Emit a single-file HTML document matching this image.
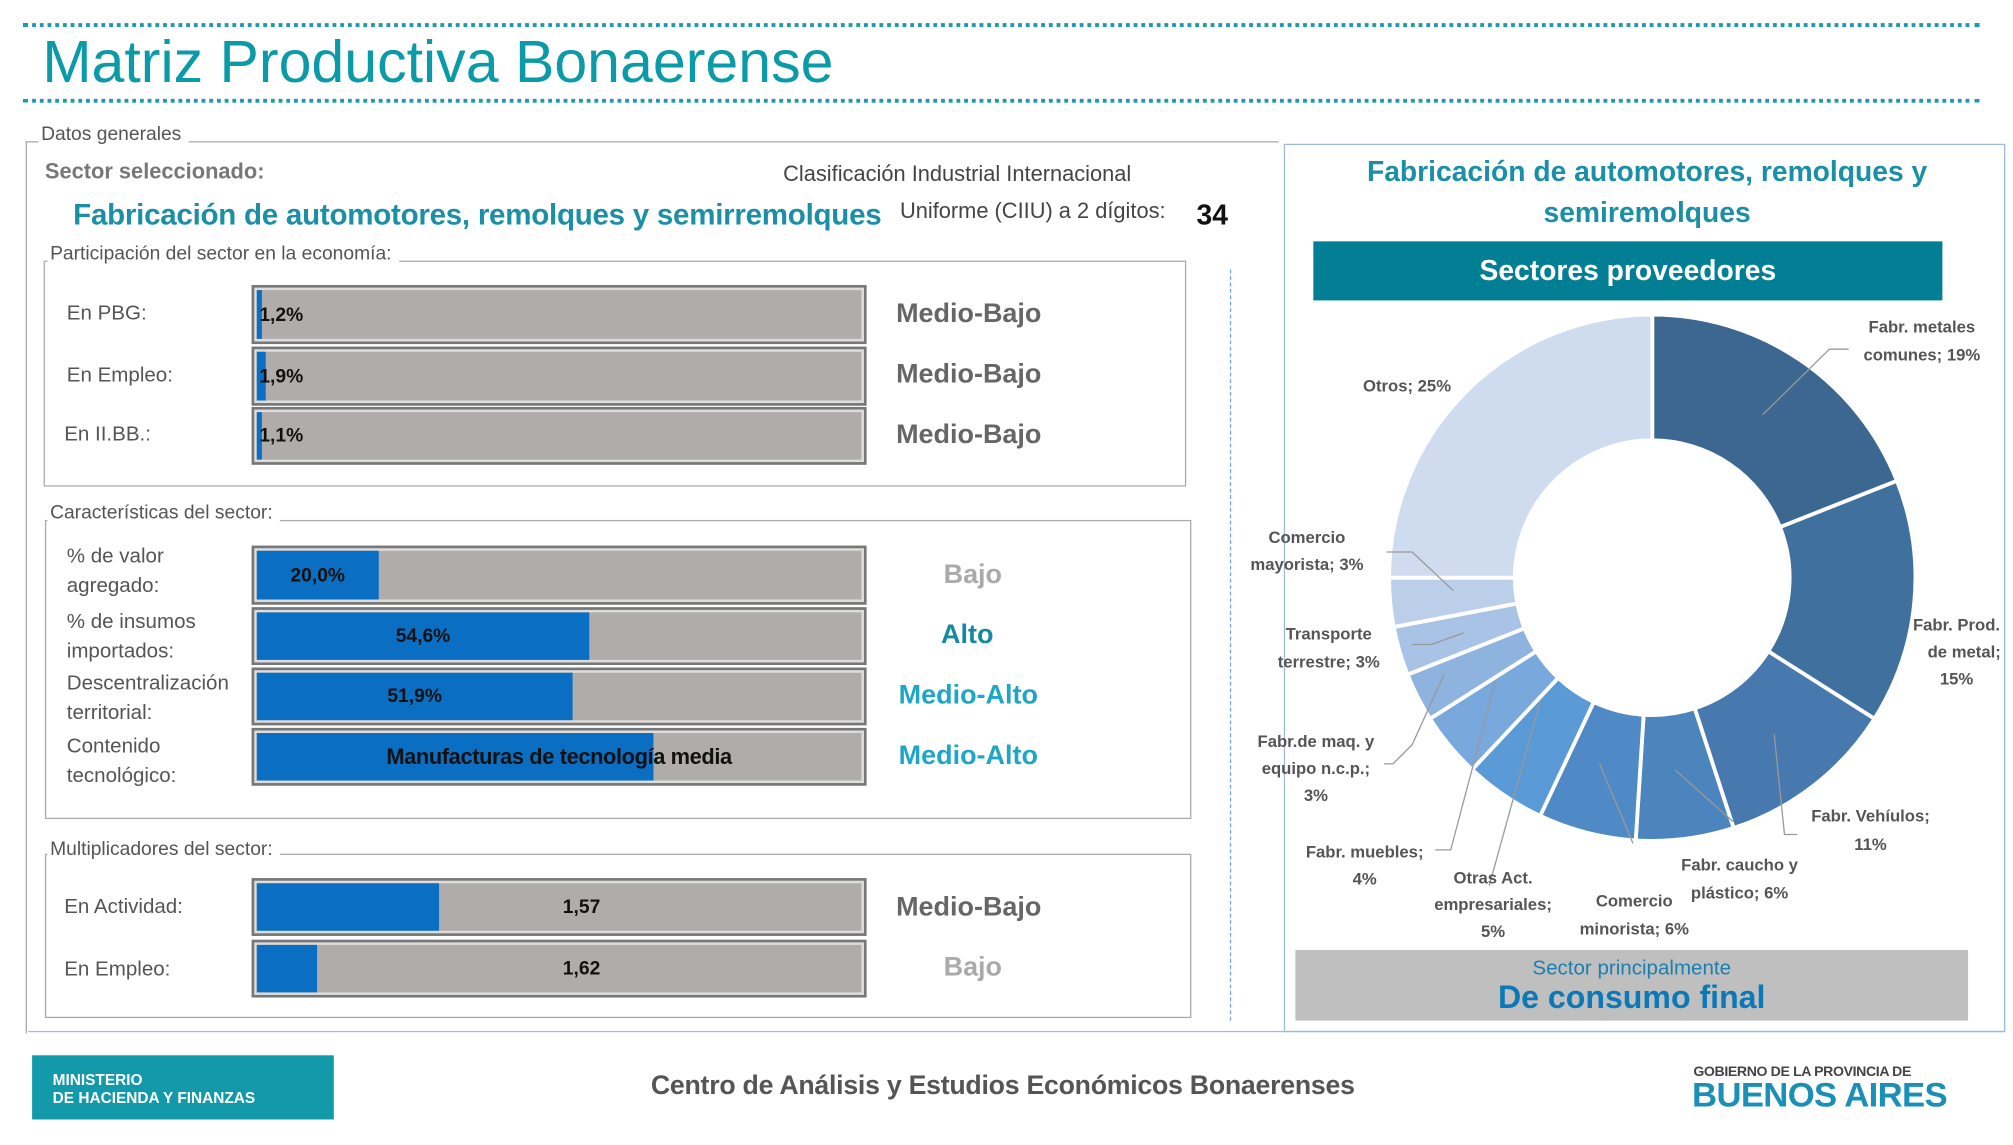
<!DOCTYPE html>
<html><head><meta charset="utf-8"><style>
html,body{margin:0;padding:0;background:#fff;width:2013px;height:1145px;overflow:hidden}
#w{position:absolute;left:0;top:0;width:1568px;height:892px;transform:scale(1.28380);transform-origin:0 0;font-family:"Liberation Sans",sans-serif}
.a{position:absolute;white-space:nowrap}
.box{position:absolute;border:1.5px solid #aaa;box-sizing:border-box}
.lg{position:absolute;background:#fff;color:#555;font-size:15px;padding:0 6px 0 2px;white-space:nowrap}
.bar{position:absolute;left:196px;width:479px;background:#b0acab;border:2px solid #777;box-sizing:border-box;box-shadow:inset 0 0 0 2px #ddd}
.fill{position:absolute;left:2px;top:2px;bottom:2px;background:#0a6fc2}
.bv{position:absolute;top:0;bottom:0;display:flex;align-items:center;font-weight:bold;font-size:15px;color:#111}
.lbl{position:absolute;color:#555;font-size:16px;line-height:23px}
.rl{position:absolute;font-weight:bold;font-size:21px}
.dl{font-size:13px;font-weight:bold;fill:#555}
</style></head><body><div id="w">
<div class="a" style="left:18px;top:18px;width:1524px;border-top:3px dotted #1a9bb0"></div>
<div class="a" style="left:18px;top:77px;width:1524px;border-top:3px dotted #1a9bb0"></div>
<div class="a" style="left:33px;top:21px;font-size:46px;color:#0b9aa8">Matriz Productiva Bonaerense</div>

<div class="a" style="left:20px;top:110px;width:975px;height:694px;border-left:1.5px solid #aaa;border-top:1.5px solid #aaa"></div>
<div class="lg" style="left:30px;top:96px">Datos generales</div>
<div class="a" style="left:1000px;top:112px;width:562px;height:692px;border:1.5px solid #9bbbd8;box-sizing:border-box"></div>
<div class="a" style="left:22px;top:803px;width:1540px;border-top:1.5px solid #9bbbd8"></div>
<div class="a" style="left:958px;top:210px;height:585px;border-left:1.5px dashed #6fa8dc"></div>

<div class="a" style="left:35px;top:124px;font-size:17px;font-weight:bold;color:#777">Sector seleccionado:</div>
<div class="a" style="left:610px;top:126px;font-size:17px;color:#444">Clasificación Industrial Internacional</div>
<div class="a" style="left:57px;top:154px;font-size:23px;font-weight:bold;color:#1b8fa6;letter-spacing:-0.2px">Fabricación de automotores, remolques y semirremolques</div>
<div class="a" style="left:701px;top:155px;font-size:17px;color:#444">Uniforme (CIIU) a 2 dígitos:</div>
<div class="a" style="left:932px;top:155px;font-size:22px;font-weight:bold;color:#111">34</div>

<div class="box" style="left:34px;top:203px;width:890px;height:176px"></div>
<div class="lg" style="left:37px;top:189px">Participación del sector en la economía:</div>
<div class="lbl" style="left:52px;top:233px">En PBG:</div>
<div class="lbl" style="left:52px;top:281px">En Empleo:</div>
<div class="lbl" style="left:50px;top:327px">En II.BB.:</div>
<div class="bar" style="top:222px;height:46px"><div class="fill" style="width:4px"></div><div class="bv" style="left:4px">1,2%</div></div>
<div class="bar" style="top:270px;height:46px"><div class="fill" style="width:7px"></div><div class="bv" style="left:4px">1,9%</div></div>
<div class="bar" style="top:317px;height:45px"><div class="fill" style="width:4px"></div><div class="bv" style="left:4px">1,1%</div></div>
<div class="rl" style="left:698px;top:233px;color:#666">Medio-Bajo</div>
<div class="rl" style="left:698px;top:280px;color:#666">Medio-Bajo</div>
<div class="rl" style="left:698px;top:327px;color:#666">Medio-Bajo</div>

<div class="box" style="left:35px;top:405px;width:893px;height:233px"></div>
<div class="lg" style="left:37px;top:391px">Características del sector:</div>
<div class="lbl" style="left:52px;top:422px">% de valor<br>agregado:</div>
<div class="lbl" style="left:52px;top:473px">% de insumos<br>importados:</div>
<div class="lbl" style="left:52px;top:521px">Descentralización<br>territorial:</div>
<div class="lbl" style="left:52px;top:570px">Contenido<br>tecnológico:</div>
<div class="bar" style="top:425px;height:46px"><div class="fill" style="width:95px"></div><div class="bv" style="left:2px;width:95px;justify-content:center">20,0%</div></div>
<div class="bar" style="top:473px;height:45px"><div class="fill" style="width:259px"></div><div class="bv" style="left:2px;width:259px;justify-content:center">54,6%</div></div>
<div class="bar" style="top:520px;height:45px"><div class="fill" style="width:246px"></div><div class="bv" style="left:2px;width:246px;justify-content:center">51,9%</div></div>
<div class="bar" style="top:567px;height:45px"><div class="fill" style="width:309px"></div><div class="bv" style="left:0;width:475px;justify-content:center;font-size:17px;letter-spacing:-0.3px">Manufacturas de tecnología media</div></div>
<div class="rl" style="left:735px;top:436px;color:#aaa">Bajo</div>
<div class="rl" style="left:733px;top:483px;color:#148aa0">Alto</div>
<div class="rl" style="left:700px;top:530px;color:#1ea6c8">Medio-Alto</div>
<div class="rl" style="left:700px;top:577px;color:#1ea6c8">Medio-Alto</div>

<div class="box" style="left:35px;top:665px;width:893px;height:128px"></div>
<div class="lg" style="left:37px;top:653px">Multiplicadores del sector:</div>
<div class="lbl" style="left:50px;top:695px">En Actividad:</div>
<div class="lbl" style="left:50px;top:744px">En Empleo:</div>
<div class="bar" style="top:684px;height:45px"><div class="fill" style="width:142px"></div><div class="bv" style="left:0;width:510px;justify-content:center">1,57</div></div>
<div class="bar" style="top:732px;height:45px"><div class="fill" style="width:47px"></div><div class="bv" style="left:0;width:510px;justify-content:center">1,62</div></div>
<div class="rl" style="left:698px;top:695px;color:#666">Medio-Bajo</div>
<div class="rl" style="left:735px;top:742px;color:#aaa">Bajo</div>

<div class="a" style="left:1000px;top:118px;width:566px;text-align:center;font-size:22px;font-weight:bold;color:#1b8fa6;line-height:32px;white-space:normal">Fabricación de automotores, remolques y<br>semiremolques</div>
<div class="a" style="left:1023px;top:188px;width:490px;height:46px;background:#027f94;color:#fff;font-weight:bold;font-size:22px;text-align:center;line-height:46px">Sectores proveedores</div>

<svg class="a" style="left:0;top:0" width="1568" height="892" id="sv">
<g id="don"></g>
<g stroke="#999" stroke-width="1" fill="none">
<polyline points="1373,323 1425,272 1440,272"/>
<polyline points="1132,460 1100,430 1080,430"/>
<polyline points="1140,493 1115,502 1100,502"/>
<polyline points="1125,525 1100,580 1085,595 1078,595"/>
<polyline points="1165,530 1130,662 1118,662"/>
<polyline points="1200,545 1160,690"/>
<polyline points="1246,595 1272,657"/>
<polyline points="1305,600 1350,640"/>
<polyline points="1382,572 1390,650 1400,650"/>
</g>
<g class="dl" text-anchor="middle">
<text x="1497" y="259">Fabr. metales</text><text x="1497" y="281">comunes; 19%</text>
<text x="1096" y="305">Otros; 25%</text>
<text x="1018" y="423">Comercio</text><text x="1018" y="444">mayorista; 3%</text>
<text x="1035" y="498">Transporte</text><text x="1035" y="520">terrestre; 3%</text>
<text x="1025" y="582">Fabr.de maq. y</text><text x="1025" y="603">equipo n.c.p.;</text><text x="1025" y="624">3%</text>
<text x="1063" y="668">Fabr. muebles;</text><text x="1063" y="689">4%</text>
<text x="1163" y="688">Otras Act.</text><text x="1163" y="709">empresariales;</text><text x="1163" y="730">5%</text>
<text x="1273" y="706">Comercio</text><text x="1273" y="728">minorista; 6%</text>
<text x="1355" y="678">Fabr. caucho y</text><text x="1355" y="700">plástico; 6%</text>
<text x="1457" y="640">Fabr. Vehíulos;</text><text x="1457" y="662">11%</text>
<text x="1524" y="491">Fabr. Prod.</text><text x="1530" y="512">de metal;</text><text x="1524" y="533">15%</text>
</g>
</svg>

<div class="a" style="left:1009px;top:740px;width:524px;height:55px;background:#bfbfbf;text-align:center">
<div style="font-size:16px;color:#1b7fb0;margin-top:6px;line-height:18px">Sector principalmente</div>
<div style="font-size:25px;font-weight:bold;color:#0b78b8;line-height:27px">De consumo final</div></div>

<div class="a" style="left:25px;top:822px;width:235px;height:50px;background:#139aaa;color:#fff;font-size:12px;font-weight:bold;line-height:14px;box-sizing:border-box;padding:12px 0 0 16px">MINISTERIO<br>DE HACIENDA Y FINANZAS</div>
<div class="a" style="left:507px;top:834px;font-size:20.8px;font-weight:bold;color:#555;letter-spacing:-0.2px">Centro de Análisis y Estudios Económicos Bonaerenses</div>
<div class="a" style="left:1319px;top:829px;font-size:11px;font-weight:bold;color:#444;letter-spacing:-0.3px">GOBIERNO DE LA PROVINCIA DE</div>
<div class="a" style="left:1318px;top:838px;font-size:27px;font-weight:bold;color:#1a8fb8;letter-spacing:-0.5px">BUENOS AIRES</div>
</div>
<script>
var d=[[19,"#3c6790"],[15,"#40709d"],[11,"#4879ae"],[6,"#4c84bd"],[6,"#4f8ac6"],[5,"#5a9ad6"],[4,"#78a8dc"],[3,"#8fb3df"],[3,"#a8c3e5"],[3,"#bccfea"],[25,"#cfdbee"]];
var cx=1287,cy=450,R=205,r=107,a=0,s="";
function p(rr,t){return (cx+rr*Math.sin(t)).toFixed(2)+","+(cy-rr*Math.cos(t)).toFixed(2)}
d.forEach(function(e){var b=a+e[0]/100*2*Math.PI,l=(b-a)>Math.PI?1:0;
s+='<path d="M'+p(R,a)+' A'+R+','+R+' 0 '+l+' 1 '+p(R,b)+' L'+p(r,b)+' A'+r+','+r+' 0 '+l+' 0 '+p(r,a)+' Z" fill="'+e[1]+'" stroke="#fff" stroke-width="3"/>';a=b;});
document.getElementById("don").innerHTML=s;
</script>
</body></html>
